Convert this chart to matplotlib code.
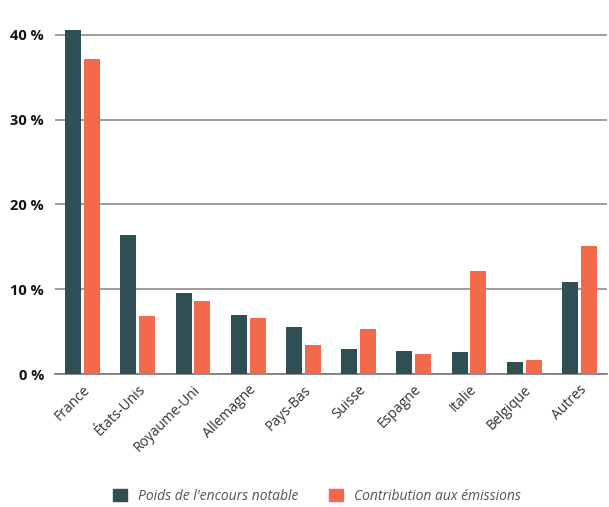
import numpy as np
import matplotlib.pyplot as plt
from matplotlib.patches import Patch

countries = ["France", "États-Unis", "Royaume-Uni", "Allemagne", "Pays-Bas",
             "Suisse", "Espagne", "Italie", "Belgique", "Autres"]
poids_encours = [40.6, 16.4, 9.6, 7.0, 5.5, 2.9, 2.7, 2.6, 1.4, 10.9]
contribution = [37.1, 6.8, 8.6, 6.6, 3.4, 5.3, 2.4, 12.1, 1.7, 15.1]
y_ticks = [0, 10, 20, 30, 40]
legend_labels = ["Poids de l'encours notable", "Contribution aux émissions"]

dark = "#2f4f54"
orange = "#f2694b"

plt.rcParams['font.family'] = ['Open Sans', 'DejaVu Sans']

fig = plt.figure(figsize=(6.09, 5.07), dpi=100)
ax = fig.add_axes([55 / 609, 133 / 507, 552 / 609, 347.7 / 507])

x = np.arange(len(countries))
w = 0.29
ax.bar(x - 0.172, poids_encours, width=w, color=dark, zorder=3)
ax.bar(x + 0.172, contribution, width=w, color=orange, zorder=3)

ax.set_xlim(-0.5, len(countries) - 0.5)
ax.set_ylim(0, 41)
ax.set_yticks(y_ticks)
ax.set_yticklabels([f"{v} %" for v in y_ticks], fontweight='bold', fontsize=10.5, color='#111111')
ax.set_xticks(x)
ax.set_xticklabels(countries, rotation=45, ha='right', rotation_mode='anchor',
                   fontsize=10, color='#333333')
ax.tick_params(axis='both', length=0)
ax.tick_params(axis='y', pad=8)
ax.tick_params(axis='x', pad=6)

ax.grid(axis='y', color='#8c8c8c', linewidth=1.2, zorder=0)
for s in ['top', 'right', 'left']:
    ax.spines[s].set_visible(False)
ax.spines['bottom'].set_color('#777777')
ax.spines['bottom'].set_linewidth(1.2)

handles = [Patch(color=dark), Patch(color=orange)]
fig.legend(handles, legend_labels, loc='center', bbox_to_anchor=(317 / 609, 1 - 496 / 507),
           ncol=2, frameon=False, handlelength=1.0, handleheight=1.0, columnspacing=2.2,
           prop={'style': 'italic', 'size': 10}, labelcolor='#555555')

fig.savefig('out.png', dpi=100)
